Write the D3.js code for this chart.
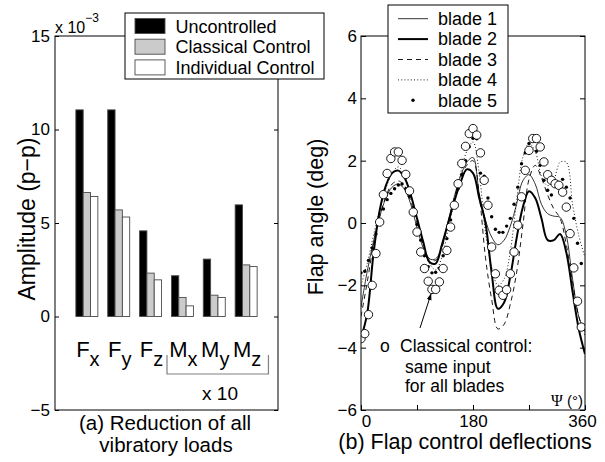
<!DOCTYPE html>
<html>
<head>
<meta charset="utf-8">
<script src="https://cdn.jsdelivr.net/npm/d3@7"></script>
<style>
  body { margin: 0; background: #fff; }
  svg { display: block; }
  text { font-family: Arial, "Liberation Sans", Helvetica, sans-serif; fill: #000; }
</style>
</head>
<body>
<svg id="chart" width="605" height="462"></svg>
<script>
// ---------- (a) vibratory load amplitudes (x 10^-3) ----------
const loadNames = [["F", "x"], ["F", "y"], ["F", "z"], ["M", "x"], ["M", "y"], ["M", "z"]];
const uncontrolled = [11.05, 11.05, 4.58, 2.18, 3.07, 5.97];
const classicalCtrl = [6.63, 5.70, 2.32, 1.02, 1.14, 2.76];
const individualCtrl = [6.42, 5.32, 1.96, 0.57, 1.02, 2.67];
const ampTicks = [-5, 0, 5, 10, 15];
const barLegend = ["Uncontrolled", "Classical Control", "Individual Control"];

// ---------- (b) flap deflections over one revolution ----------
const psiLine = [0, 10, 20, 30, 40, 50, 60, 70, 80, 90, 100, 110, 120, 130, 140, 150, 160, 170, 180,
  190, 200, 210, 220, 230, 240, 250, 260, 270, 280, 290, 300, 310, 320, 330, 340, 350, 360];
const blade1 = [-2.7, -1.55, -0.6, 0.2, 0.8, 1.15, 1.25, 1.08, 0.6, -0.15, -0.8, -1.15, -1.15, -0.75, 0.05,
  0.85, 1.5, 1.95, 2.1, 0.95, 0.1, -0.45, -0.7, -0.55, -0.1, 0.6, 1.35, 1.55, 1.25, 0.6, 0.3, 0.22, 0.18,
  -0.4, -1.8, -3.0, -3.5];
const blade2 = [-3.7, -2.9, -1.0, 0.4, 1.2, 1.6, 1.68, 1.45, 0.9, 0.15, -0.6, -1.25, -1.3, -0.7, 0.0,
  0.7, 1.3, 1.72, 1.6, 0.8, 0.0, -1.6, -2.75, -2.55, -1.7, -0.5, 0.5, 1.02, 0.8, 0.15, -0.55, -0.55, -0.35,
  -0.95, -2.2, -3.4, -4.2];
const blade3 = [-3.0, -1.9, -0.7, 0.2, 0.85, 1.25, 1.35, 1.2, 0.7, 0.0, -0.7, -1.15, -1.2, -0.8, 0.0,
  0.8, 1.45, 1.85, 2.0, 0.9, -1.1, -2.45, -3.4, -3.25, -2.6, -1.6, -0.1, 1.4, 1.85, 1.45, 0.9, 0.45, 0.15,
  -0.7, -1.9, -3.0, -3.6];
const blade4 = [-2.0, -1.3, -0.4, 0.4, 1.1, 1.6, 1.8, 1.5, 0.9, 0.1, -0.7, -1.3, -1.5, -1.1, -0.2,
  0.7, 1.6, 2.3, 2.6, 1.6, -0.3, -1.4, -2.0, -1.8, -0.9, 0.7, 2.1, 2.55, 2.3, 1.5, 1.2, 1.4, 1.95,
  1.95, 0.6, -0.4, -1.1];

const psiMarks = [0, 6, 12, 18, 24, 30, 36, 42, 48, 54, 60, 66, 72, 78, 84, 90, 96, 102, 108, 114,
  120, 126, 132, 138, 144, 150, 156, 162, 168, 174, 180, 186, 192, 198, 204, 210, 216, 222, 228, 234,
  240, 246, 252, 258, 264, 270, 276, 282, 288, 294, 300, 306, 312, 318, 324, 330, 336, 342, 348, 354];
const blade5 = [-1.6, -1.55, -1.2, -0.8, -0.35, 0.1, 0.45, 0.75, 0.95, 1.1, 1.22, 1.25, 1.1, 0.85, 0.45,
  -0.05, -0.55, -1.05, -1.4, -1.6, -1.58, -1.45, -1.05, -0.5, 0.1, 0.6, 1.1, 1.55, 2.0, 2.45,
  2.72, 2.7, 1.6, 1.5, 0.8, 0.2, -0.2, -0.3, -0.3, -0.1, 0.15, 0.6, 1.15, 1.9, 2.25, 2.55, 2.7, 2.3,
  1.85, 1.37, 1.05, 0.9, 1.2, 1.3, 1.4, 1.15, 0.8, 0.15, -0.65, -1.3];
const classicalInput = [-3.71, -3.55, -2.94, -2.0, -0.98, 0.03, 0.91, 1.59, 2.07, 2.28, 2.28, 2.01, 1.56,
  1.03, 0.35, -0.29, -0.93, -1.46, -1.87, -2.13, -2.13, -1.89, -1.46, -0.88, -0.13, 0.57, 1.26, 1.91,
  2.46, 2.87, 3.03, 2.82, 2.25, 1.37, 0.57, -0.77, -1.63, -2.16, -2.32, -2.14, -1.63, -0.93, -0.07,
  0.84, 1.69, 2.33, 2.71, 2.71, 2.44, 1.96, 1.55, 1.37, 1.26, 1.21, 0.99, 0.51, -0.34, -1.44, -2.51, -3.34];
const psiTicks = [0, 90, 180, 270, 360];
const psiTickLabels = ["0", "", "180", "", "360"];
const flapTicks = [-6, -4, -2, 0, 2, 4, 6];
const bladeNames = ["blade 1", "blade 2", "blade 3", "blade 4", "blade 5"];

const svg = d3.select("#chart");

// ================= panel (a): grouped bars =================
const A = { x0: 55, x1: 278, y0: 36, y1: 410 };
const xA = d3.scaleLinear().domain([0, 7]).range([A.x0, A.x1]);
const yA = d3.scaleLinear().domain([-5, 15]).range([A.y1, A.y0]);
const barW = 0.23;
const barSeries = [
  { vals: uncontrolled, fill: "#000000" },
  { vals: classicalCtrl, fill: "#cbcbcb" },
  { vals: individualCtrl, fill: "#ffffff" }
];

barSeries.forEach((s, k) => {
  svg.append("g").selectAll("rect").data(s.vals).join("rect")
    .attr("x", (d, i) => xA(i + 1 + (k - 1.5) * barW))
    .attr("width", xA(barW) - xA(0))
    .attr("y", d => yA(d))
    .attr("height", d => yA(0) - yA(d))
    .attr("fill", s.fill)
    .attr("stroke", "#4a4a4a")
    .attr("stroke-width", 0.9);
});

svg.append("rect").attr("x", A.x0).attr("y", A.y0)
  .attr("width", A.x1 - A.x0).attr("height", A.y1 - A.y0)
  .attr("fill", "none").attr("stroke", "#000").attr("stroke-width", 1);

const axA = svg.append("g").attr("transform", `translate(${A.x0},0)`)
  .call(d3.axisLeft(yA).tickValues(ampTicks).tickSizeInner(-4).tickSizeOuter(0).tickPadding(5));
axA.select(".domain").remove();
axA.selectAll("text").style("font-size", "17px").style("font-family", "Arial, 'Liberation Sans', sans-serif");
const axAr = svg.append("g").attr("transform", `translate(${A.x1},0)`)
  .call(d3.axisRight(yA).tickValues(ampTicks).tickSizeInner(-4).tickSizeOuter(0).tickFormat(""));
axAr.select(".domain").remove();

// exponent note
const expo = svg.append("text").attr("x", 55).attr("y", 33).style("font-size", "16px");
expo.append("tspan").text("x 10");
expo.append("tspan").attr("dy", -11).style("font-size", "12px").text("\u22123");

// category labels with subscripts
loadNames.forEach((n, i) => {
  const t = svg.append("text").attr("x", xA(i + 1) + 1).attr("y", 357)
    .attr("text-anchor", "middle").style("font-size", "22px");
  t.append("tspan").text(n[0]);
  t.append("tspan").attr("dy", 9).style("font-size", "20px").text(n[1]);
});

// bracket for the scaled moments
svg.append("path")
  .attr("d", `M${xA(3.5) + 0.5},355 V374 H${xA(6.7)} V355`)
  .attr("fill", "none").attr("stroke", "#808080").attr("stroke-width", 1.2);
svg.append("text").attr("x", 220).attr("y", 400).attr("text-anchor", "middle")
  .style("font-size", "19px").text("x 10");

// legend (a)
const legA = svg.append("g");
legA.append("rect").attr("x", 125).attr("y", 13).attr("width", 199).attr("height", 66)
  .attr("fill", "#fff").attr("stroke", "#000").attr("stroke-width", 1);
barLegend.forEach((name, k) => {
  legA.append("rect").attr("x", 135).attr("y", 18.5 + k * 20.7).attr("width", 30).attr("height", 15)
    .attr("fill", barSeries[k].fill).attr("stroke", "#4a4a4a").attr("stroke-width", 0.9);
  legA.append("text").attr("x", 175.5).attr("y", 32.5 + k * 20.5).style("font-size", "18px").text(name);
});

// titles (a)
svg.append("text").attr("x", 165).attr("y", 430).attr("text-anchor", "middle")
  .style("font-size", "20.5px").text("(a) Reduction of all");
svg.append("text").attr("x", 166).attr("y", 452).attr("text-anchor", "middle")
  .style("font-size", "20.5px").text("vibratory loads");
svg.append("text").attr("transform", "translate(35,219) rotate(-90)").attr("text-anchor", "middle")
  .style("font-size", "23px").text("Amplitude (p\u2212p)");

// ================= panel (b): flap deflections =================
const B = { x0: 361, x1: 585, y0: 36, y1: 410 };
const xB = d3.scaleLinear().domain([0, 360]).range([B.x0, B.x1]);
const yB = d3.scaleLinear().domain([-6, 6]).range([B.y1, B.y0]);

svg.append("defs").append("clipPath").attr("id", "clipB")
  .append("rect").attr("x", B.x0).attr("y", B.y0).attr("width", B.x1 - B.x0).attr("height", B.y1 - B.y0);

const plotB = svg.append("g").attr("clip-path", "url(#clipB)");
const line = d3.line().x(d => xB(d[0])).y(d => yB(d[1])).curve(d3.curveCatmullRom.alpha(0.5));

const bladeLines = [
  { vals: blade1, width: 0.8, dash: null },
  { vals: blade2, width: 2.0, dash: null },
  { vals: blade3, width: 0.9, dash: "5,4" },
  { vals: blade4, width: 0.9, dash: "1,2.2" }
];
bladeLines.forEach(b => {
  plotB.append("path")
    .datum(psiLine.map((p, i) => [p, b.vals[i]]))
    .attr("d", line)
    .attr("fill", "none").attr("stroke", "#000")
    .attr("stroke-width", b.width)
    .attr("stroke-dasharray", b.dash);
});

plotB.append("g").selectAll("circle").data(psiMarks.map((p, i) => [p, blade5[i]])).join("circle")
  .attr("cx", d => xB(d[0])).attr("cy", d => yB(d[1])).attr("r", 1.7).attr("fill", "#000");

plotB.append("g").selectAll("circle").data(psiMarks.map((p, i) => [p, classicalInput[i]])).join("circle")
  .attr("cx", d => xB(d[0])).attr("cy", d => yB(d[1])).attr("r", 4.2)
  .attr("fill", "#fff").attr("stroke", "#000").attr("stroke-width", 0.9);

svg.append("rect").attr("x", B.x0).attr("y", B.y0)
  .attr("width", B.x1 - B.x0).attr("height", B.y1 - B.y0)
  .attr("fill", "none").attr("stroke", "#000").attr("stroke-width", 1);

const axBl = svg.append("g").attr("transform", `translate(${B.x0},0)`)
  .call(d3.axisLeft(yB).tickValues(flapTicks).tickSizeInner(-5).tickSizeOuter(0).tickPadding(4));
axBl.select(".domain").remove();
axBl.selectAll("text").style("font-size", "17px").style("font-family", "Arial, 'Liberation Sans', sans-serif");
const axBr = svg.append("g").attr("transform", `translate(${B.x1},0)`)
  .call(d3.axisRight(yB).tickValues(flapTicks).tickSizeInner(-5).tickSizeOuter(0).tickFormat(""));
axBr.select(".domain").remove();
const axBb = svg.append("g").attr("transform", `translate(0,${B.y1})`)
  .call(d3.axisBottom(xB).tickValues(psiTicks).tickSizeInner(-5).tickSizeOuter(0).tickPadding(5)
    .tickFormat((d, i) => psiTickLabels[i]));
axBb.select(".domain").remove();
axBb.selectAll("text").style("font-size", "17px").style("font-family", "Arial, 'Liberation Sans', sans-serif")
  .attr("dx", (d, i) => i === 0 ? 5 : (i === psiTicks.length - 1 ? -3 : 0));

// axis annotation for azimuth
const psiLab = svg.append("text").attr("x", 583).attr("y", 406).attr("text-anchor", "end").style("font-size", "15px");
psiLab.append("tspan").style("font-family", "'Liberation Serif', 'DejaVu Serif', serif").style("font-size", "16px").text("\u03A8");
psiLab.append("tspan").text(" (\u00B0)");

// legend (b)
const legB = svg.append("g");
legB.append("rect").attr("x", 388).attr("y", 5).attr("width", 120).attr("height", 108)
  .attr("fill", "#fff").attr("stroke", "#000").attr("stroke-width", 1);
bladeNames.forEach((name, k) => {
  const cy = 18.7 + k * 20.4;
  if (k < 4) {
    legB.append("line").attr("x1", 398).attr("x2", 428).attr("y1", cy).attr("y2", cy)
      .attr("stroke", "#000").attr("stroke-width", bladeLines[k].width)
      .attr("stroke-dasharray", bladeLines[k].dash);
  } else {
    legB.append("circle").attr("cx", 413).attr("cy", cy).attr("r", 1.7).attr("fill", "#000");
  }
  legB.append("text").attr("x", 438).attr("y", cy + 6.3).style("font-size", "18px").text(name);
});

// callout for the classical control input
const defs = svg.select("defs");
defs.append("marker").attr("id", "arrowHead").attr("viewBox", "0 0 10 10")
  .attr("refX", 9).attr("refY", 5).attr("markerWidth", 7).attr("markerHeight", 7)
  .attr("orient", "auto")
  .append("path").attr("d", "M0,1.5 L10,5 L0,8.5 Z").attr("fill", "#000");
svg.append("line").attr("x1", 420).attr("y1", 328).attr("x2", 431).attr("y2", 294)
  .attr("stroke", "#000").attr("stroke-width", 1).attr("marker-end", "url(#arrowHead)");
svg.append("text").attr("x", 380).attr("y", 352).style("font-size", "17.5px").text("o");
svg.append("text").attr("x", 400).attr("y", 352).style("font-size", "17.5px").text("Classical control:");
svg.append("text").attr("x", 405).attr("y", 373).style("font-size", "17.5px").text("same input");
svg.append("text").attr("x", 405).attr("y", 392).style("font-size", "17.5px").text("for all blades");

// titles (b)
svg.append("text").attr("x", 465).attr("y", 449).attr("text-anchor", "middle")
  .style("font-size", "21.5px").text("(b) Flap control deflections");
svg.append("text").attr("transform", "translate(323,217) rotate(-90)").attr("text-anchor", "middle")
  .style("font-size", "21.5px").text("Flap angle (deg)");
</script>
</body>
</html>
